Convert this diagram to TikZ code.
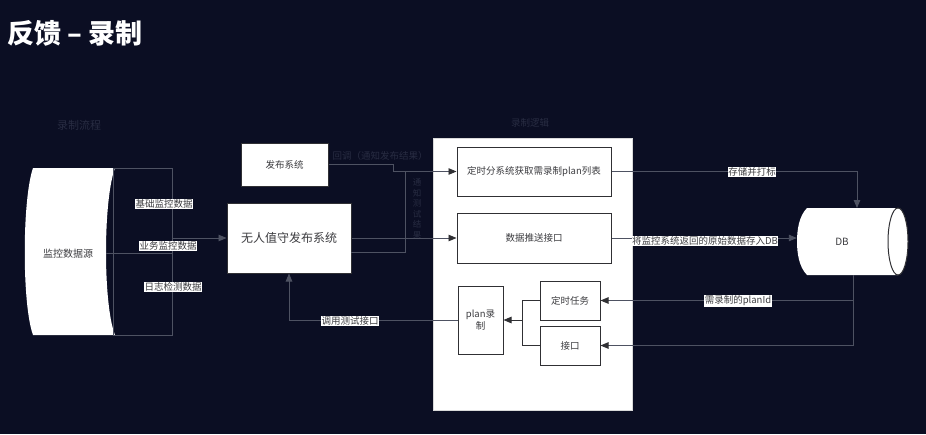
\documentclass[tikz,border=0pt]{standalone}
\usepackage{fontspec}
\setmainfont{Noto Sans CJK SC}
\usetikzlibrary{arrows.meta}
\definecolor{bg}{RGB}{11,14,35}
\definecolor{ln}{RGB}{78,82,98}
\definecolor{dk}{RGB}{48,48,52}
\definecolor{faint}{RGB}{40,44,66}
\definecolor{tx}{RGB}{60,60,64}
\tikzset{
  box/.style={draw=dk, line width=1pt, fill=white, text=tx, inner sep=1pt, align=center, font=\fontsize{9.5}{12}\selectfont},
  conn/.style={draw=ln, line width=0.9pt},
  dconn/.style={draw=dk, line width=1pt},
  tipd/.style={-{Triangle[length=8pt,width=6.5pt,color=dk,fill=dk]}},
  tipg/.style={-{Triangle[length=8pt,width=6.5pt,color=ln,fill=ln]}},
  lbl/.style={fill=white, text=tx, inner sep=0.6pt, font=\fontsize{9.5}{11}\selectfont},
  flbl/.style={text=faint, inner sep=0pt, font=\fontsize{9.5}{11}\selectfont}
}
\begin{document}
\begin{tikzpicture}[x=1pt,y=-1pt]
\fill[bg] (0,0) rectangle (926,434);
\useasboundingbox (0,0) rectangle (926,434);

% title
\node[anchor=west, text=white, inner sep=0, font=\bfseries\fontsize{27}{32}\selectfont] (title) at (7,33) {反馈 – 录制};

% faint group titles
\node[flbl, font=\fontsize{11}{13}\selectfont] (t1) at (79,125) {录制流程};
\node[flbl] (t2) at (530,123) {录制逻辑};

% source cylinder
\fill[white] (33,168) .. controls (22,200) and (22,305) .. (33,335) -- (115,335) .. controls (103,305) and (103,200) .. (115,168) -- cycle;
\draw[conn] (113,168) rectangle (172,335);
\node[text=tx, font=\fontsize{10}{12}\selectfont] (src) at (68,254) {监控数据源};
\coordinate (srcM) at (106,253);
\coordinate (srcR) at (172,253);
\coordinate (srcA) at (172,238);

% left boxes
\node[box, minimum width=87pt, minimum height=43pt] (fb) at (284.5,164.5) {发布系统};
\node[box, minimum width=124pt, minimum height=70pt, font=\fontsize{12}{14}\selectfont] (wr) at (289,238) {无人值守发布系统};

% big container
\node[draw=white!85!black, line width=0.8pt, fill=white, minimum width=199pt, minimum height=272pt, inner sep=0] (big) at (532.5,274) {};

\node[box, minimum width=154pt, minimum height=49pt] (dsf) at (534,171.5) {定时分系统获取需录制plan列表};
\node[box, minimum width=154pt, minimum height=50pt] (dsi) at (534,238) {数据推送接口};
\node[box, minimum width=45pt, minimum height=68pt] (plan) at (480.5,320) {plan录\\制};
\node[box, minimum width=60pt, minimum height=39pt] (task) at (570,300.5) {定时任务};
\node[box, minimum width=60pt, minimum height=39pt] (jk) at (570,345.5) {接口};

% DB cylinder
\fill[white] (807,208) .. controls (799,216) and (797,230) .. (797,241.5) .. controls (797,253) and (799,267) .. (807,275) -- (898,275) -- (898,208) -- cycle;
\draw[dk, line width=1pt, fill=white] (898,241.5) ellipse[x radius=10, y radius=33.5];
\node[inner sep=0, minimum width=111pt, minimum height=67pt] (db) at (852.5,241.5) {};
\node[text=tx, font=\fontsize{10}{12}\selectfont] (dbt) at (842,242) {DB};

% source connectors
\draw[conn] (srcM) -- (srcR);
\draw[conn, tipg] (srcA) -- (wr.west |- srcA);
\node[lbl] (l1) at (164,204) {基础监控数据};
\node[lbl] (l2) at (168,246) {业务监控数据};
\node[lbl] (l3) at (173,287) {日志检测数据};

% release system connectors
\coordinate (j1) at (393,164.5);
\draw[conn, tipd] (fb.east) -- (j1) |- (dsf.west);
\node[flbl] (fl1) at (380,156) {回调（通知发布结果）};
\coordinate (wrb) at (351,252);
\draw[conn] (wrb) -- (405,252) -- (405,171.5);
\node[flbl, align=center, font=\fontsize{8.5}{10.5}\selectfont] (fl2) at (417,209) {通\\知\\测\\试\\结\\果};
\draw[conn, tipd] (wr.east) -- (dsi.west);

% to DB
\coordinate (dbTop) at (857,208);
\draw[conn, tipg] (dsf.east) -| (dbTop);
\node[lbl] (l4) at (752,172) {存储并打标};
\draw[conn, tipg] (dsi.east) -- (db.west |- dsi.east);
\node[lbl] (l5) at (705,241) {将监控系统返回的原始数据存入DB};

% from DB
\coordinate (dbBot) at (853,275);
\coordinate (br) at (853,300.5);
\draw[conn, tipd] (dbBot) |- (jk.east);
\draw[conn, tipd] (br) -- (task.east);
\node[lbl] (l6) at (738,301) {需录制的planId};

% merge into plan
\coordinate (mg) at (522,320);
\draw[dconn] (task.west) -| (mg);
\draw[dconn] (jk.west) -| (mg);
\draw[dconn, tipd] (mg) -- (plan.east);

% plan to wr
\draw[conn, tipg] (plan.west) -| (wr.south);
\node[lbl] (l7) at (350,321) {调用测试接口};
\end{tikzpicture}
\end{document}
